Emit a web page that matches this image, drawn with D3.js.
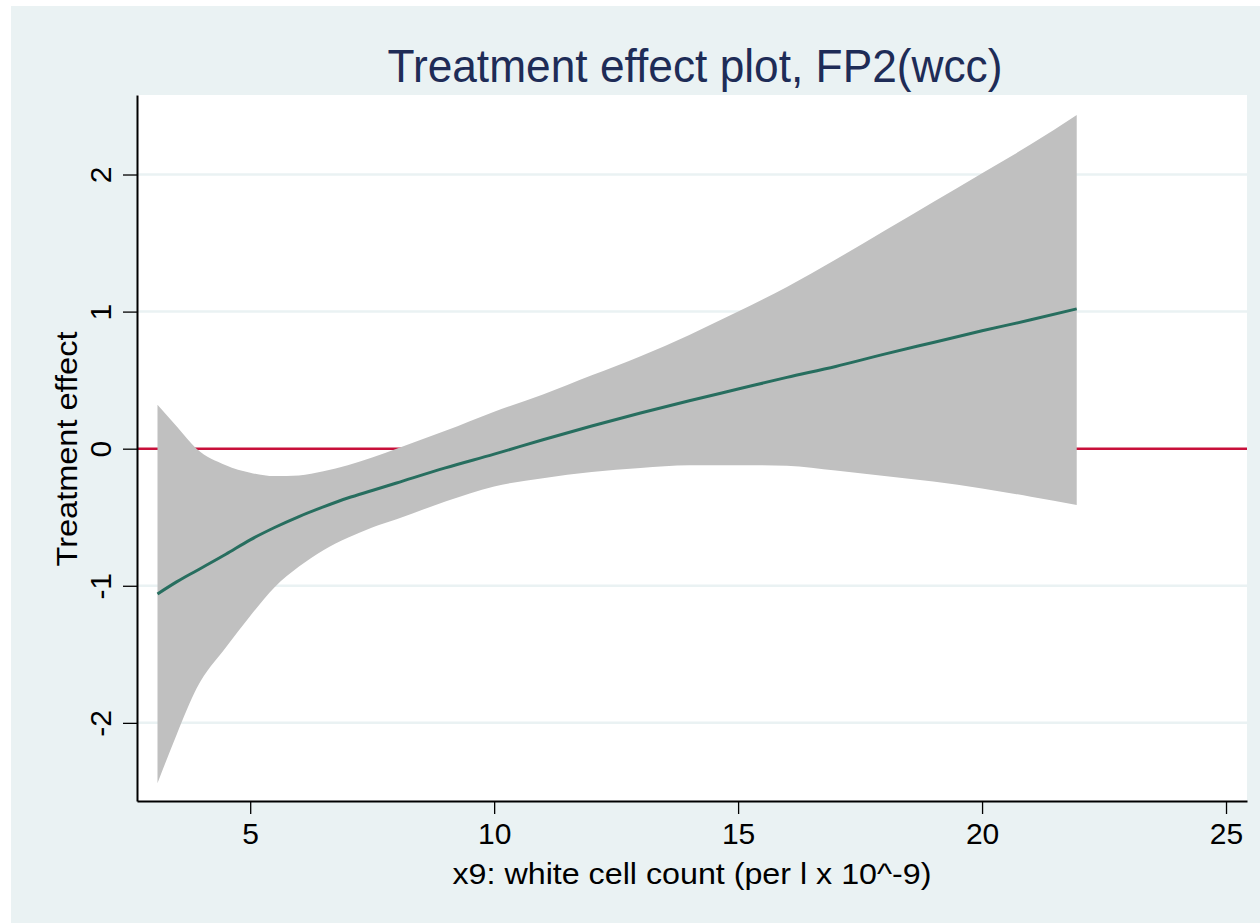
<!DOCTYPE html>
<html>
<head>
<meta charset="utf-8">
<script src="https://cdn.jsdelivr.net/npm/d3@7"></script>
<style>
  body { margin: 0; background: #fff; }
  text { font-family: "Liberation Sans", Arial, sans-serif; }
</style>
</head>
<body>
<div id="chart"></div>
<script>
// Values
const wcc = [3.1, 3.5, 3.9, 4.5, 5, 5.5, 6, 6.5, 7, 7.5, 8, 9, 10, 11, 12, 13, 14, 15, 16, 17, 18, 19, 20, 21, 21.94];
const effect = [-1.06, -0.97, -0.89, -0.77, -0.665, -0.575, -0.495, -0.425, -0.36, -0.305, -0.25, -0.14, -0.04, 0.065, 0.165, 0.26, 0.35, 0.435, 0.52, 0.6, 0.69, 0.775, 0.86, 0.94, 1.02];
const upper = [0.32, 0.16, 0.0, -0.12, -0.175, -0.2, -0.195, -0.165, -0.12, -0.065, 0.0, 0.13, 0.27, 0.395, 0.535, 0.675, 0.83, 1.0, 1.18, 1.38, 1.59, 1.8, 2.01, 2.22, 2.435];
const lower = [-2.44, -2.08, -1.75, -1.45, -1.22, -1.01, -0.86, -0.74, -0.65, -0.575, -0.515, -0.385, -0.275, -0.215, -0.17, -0.14, -0.12, -0.12, -0.125, -0.16, -0.2, -0.24, -0.29, -0.35, -0.41];
const xTicks = [5, 10, 15, 20, 25];
const yTicks = [-2, -1, 0, 1, 2];

const svgWidth = 1260;
const svgHeight = 923;

// plot region
const margin = { top: 95, right: 13, bottom: 122, left: 137 };
const width = svgWidth - margin.left - margin.right;
const height = svgHeight - margin.top - margin.bottom;

const svg = d3.select('#chart')
  .append('svg')
  .attr('width', svgWidth)
  .attr('height', svgHeight);

// outer background
svg.append('rect')
  .attr('x', 11).attr('y', 6)
  .attr('width', svgWidth - 11).attr('height', svgHeight - 6)
  .attr('fill', '#EAF2F3');

const chartGroup = svg.append('g')
  .attr('transform', `translate(${margin.left}, ${margin.top})`);

chartGroup.append('rect')
  .attr('width', width).attr('height', height)
  .attr('fill', '#fff');

const x = d3.scaleLinear().domain([2.68, 25.43]).range([0, width]);
const y = d3.scaleLinear().domain([-2.57, 2.58]).range([height, 0]);

// gridlines
chartGroup.selectAll('.grid')
  .data(yTicks.filter((d) => d !== 0))
  .enter()
  .append('line')
  .attr('x1', 0).attr('x2', width)
  .attr('y1', (d) => y(d)).attr('y2', (d) => y(d))
  .attr('stroke', '#EAF2F3')
  .attr('stroke-width', 2.5);

// zero reference line
chartGroup.append('line')
  .attr('x1', 0).attr('x2', width)
  .attr('y1', y(0)).attr('y2', y(0))
  .attr('stroke', '#C8103A')
  .attr('stroke-width', 2.5);

const pts = wcc.map((d, i) => ({ x: d, lo: lower[i], hi: upper[i], fit: effect[i] }));

// confidence band
const area = d3.area()
  .x((d) => x(d.x))
  .y0((d) => y(d.lo))
  .y1((d) => y(d.hi))
  .curve(d3.curveMonotoneX);

chartGroup.append('path')
  .datum(pts)
  .attr('d', area)
  .attr('fill', '#C0C0C0');

// fitted line
const line = d3.line()
  .x((d) => x(d.x))
  .y((d) => y(d.fit))
  .curve(d3.curveMonotoneX);

chartGroup.append('path')
  .datum(pts)
  .attr('d', line)
  .attr('fill', 'none')
  .attr('stroke', '#276E5F')
  .attr('stroke-width', 3);

// x axis
const xAxis = chartGroup.append('g')
  .attr('transform', `translate(0, ${height})`)
  .call(d3.axisBottom(x).tickValues(xTicks).tickSize(13).tickPadding(9).tickSizeOuter(0));
xAxis.select('.domain').attr('stroke', '#000').attr('stroke-width', 2);
xAxis.selectAll('.tick line').attr('stroke', '#000').attr('stroke-width', 1.3);
xAxis.selectAll('.tick text')
  .attr('font-size', 30)
  .attr('fill', '#000')
  .attr('font-family', '"Liberation Sans", Arial, sans-serif');

// y axis (plain hyphen for negatives, like the original)
const yAxis = chartGroup.append('g')
  .call(d3.axisLeft(y).tickValues(yTicks).tickFormat((d) => String(d)).tickSize(14).tickSizeOuter(0));
yAxis.select('.domain').attr('stroke', '#000').attr('stroke-width', 2);
yAxis.selectAll('.tick line').attr('stroke', '#000').attr('stroke-width', 1.3);
yAxis.selectAll('.tick text')
  .attr('font-size', 30)
  .attr('fill', '#000')
  .attr('font-family', '"Liberation Sans", Arial, sans-serif')
  .attr('text-anchor', 'middle')
  .attr('x', 0).attr('y', 0).attr('dy', '0.36em')
  .attr('transform', 'translate(-37, 0) rotate(-90)');

// title
svg.append('text')
  .attr('x', 695)
  .attr('y', 82)
  .attr('text-anchor', 'middle')
  .attr('font-size', 46)
  .attr('textLength', 615)
  .attr('lengthAdjust', 'spacingAndGlyphs')
  .attr('fill', '#1E2C57')
  .text('Treatment effect plot, FP2(wcc)');

// x label
svg.append('text')
  .attr('x', 692)
  .attr('y', 884)
  .attr('text-anchor', 'middle')
  .attr('font-size', 30)
  .attr('textLength', 479)
  .attr('lengthAdjust', 'spacingAndGlyphs')
  .attr('fill', '#000')
  .text('x9: white cell count (per l x 10^-9)');

// y label
svg.append('text')
  .attr('transform', 'translate(77, 449) rotate(-90)')
  .attr('text-anchor', 'middle')
  .attr('font-size', 30)
  .attr('textLength', 235)
  .attr('lengthAdjust', 'spacingAndGlyphs')
  .attr('fill', '#000')
  .text('Treatment effect');
</script>
</body>
</html>
